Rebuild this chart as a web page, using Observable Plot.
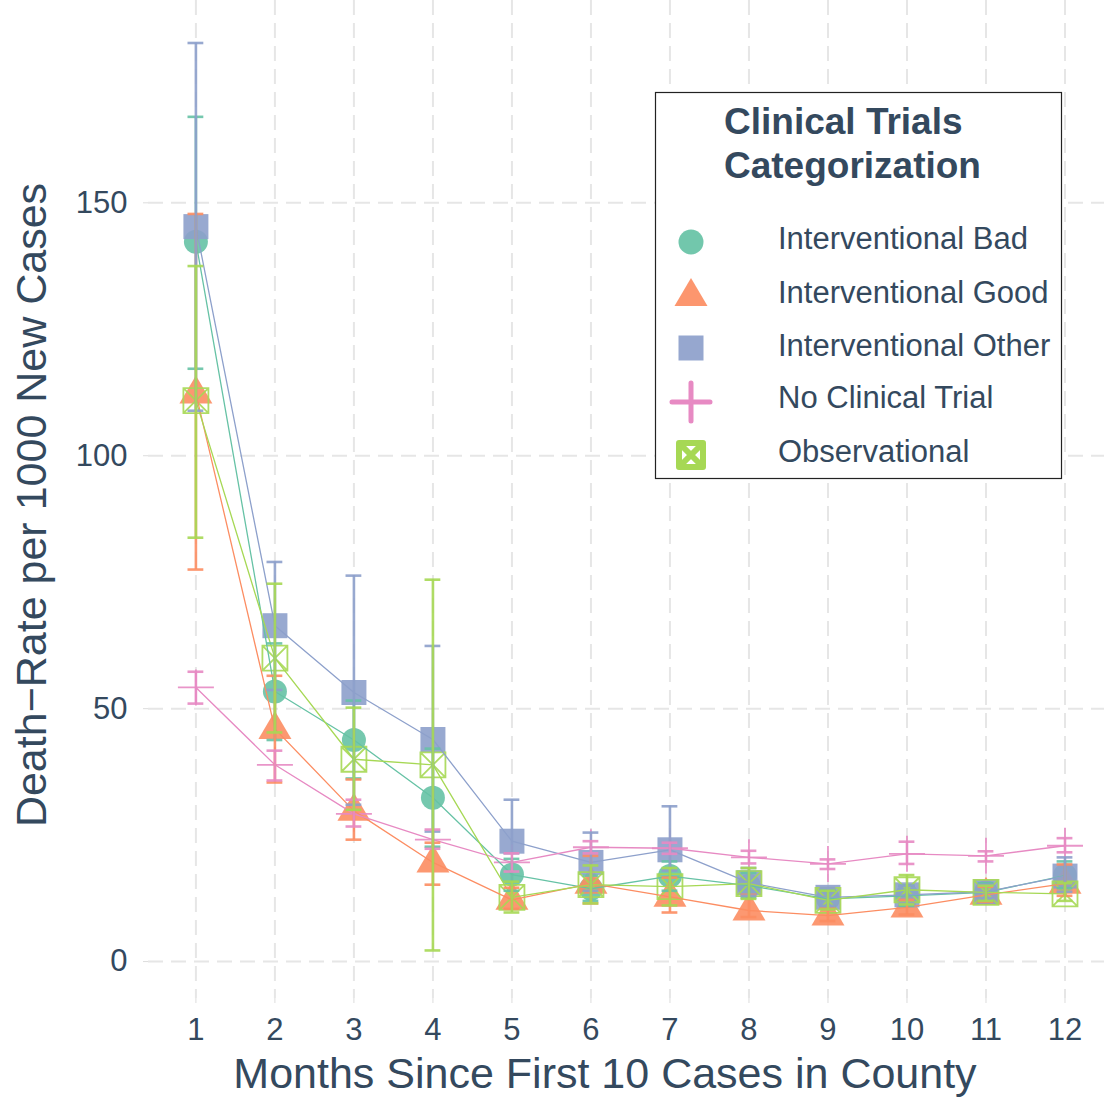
<!DOCTYPE html>
<html><head><meta charset="utf-8">
<script src="https://cdn.jsdelivr.net/npm/d3@7"></script>
<script src="https://cdn.jsdelivr.net/npm/@observablehq/plot@0.6"></script>
<style>
html,body{margin:0;padding:0;background:#fff;}
#chart{width:1104px;height:1097px;overflow:hidden;}
</style></head><body><div id="chart"></div>
<script>
// ---- Data ----
const months = [1,2,3,4,5,6,7,8,9,10,11,12];
const seriesNames = ["Interventional Bad","Interventional Good","Interventional Other","No Clinical Trial","Observational"];
const seriesColors = ["#66c2a5","#fc8d62","#8da0cb","#e78ac3","#a6d854"];
const yTicks = [0,50,100,150];

const badMean  = [142.3, 53.4, 43.8, 32.4, 17.2, 14.4, 16.9, 15.0, 12.4, 13.0, 13.7, 17.0];
const badLower = [117.2, 43.8, 36.2, 22.7, 14.0, 12.0, 14.0, 12.6, 10.8, 11.0, 12.0, 14.5];
const badUpper = [167.0, 62.9, 51.6, 42.1, 20.3, 17.0, 19.8, 17.5, 14.2, 15.0, 15.5, 19.8];

const goodMean  = [112.3, 46.0, 29.8, 19.6, 12.2, 15.4, 12.8, 10.1, 9.1, 10.7, 13.2, 15.4];
const goodLower = [77.5, 35.4, 24.1, 15.2, 10.4, 11.5, 9.7, 8.8, 8.0, 9.3, 11.8, 13.0];
const goodUpper = [147.8, 56.5, 36.0, 23.5, 14.6, 20.9, 16.6, 13.2, 10.5, 12.2, 14.8, 19.2];

const otherMean  = [145.3, 66.4, 53.2, 43.9, 23.8, 19.6, 22.1, 15.6, 12.7, 13.2, 13.8, 16.9];
const otherLower = [108.9, 53.7, 31.0, 25.7, 21.4, 14.0, 18.0, 13.0, 11.0, 11.5, 12.5, 13.8];
const otherUpper = [181.6, 79.0, 76.3, 62.4, 32.0, 25.5, 30.7, 18.5, 14.5, 15.0, 15.2, 20.6];

const noTrialMean  = [54.2, 38.9, 29.2, 24.1, 19.6, 22.6, 22.4, 20.6, 19.3, 21.3, 20.9, 22.9];
const noTrialLower = [51.0, 35.8, 26.7, 22.3, 17.8, 21.4, 21.3, 19.4, 18.3, 19.3, 19.8, 21.6];
const noTrialUpper = [57.3, 41.7, 32.0, 26.1, 21.4, 23.8, 23.5, 21.9, 20.2, 23.7, 21.8, 24.4];

const obsMean  = [110.9, 60.0, 40.0, 38.9, 12.7, 15.2, 14.8, 15.4, 12.1, 14.2, 13.7, 13.4];
const obsLower = [83.8, 45.3, 30.0, 2.2, 9.7, 11.5, 11.1, 12.4, 10.3, 11.3, 12.0, 12.0];
const obsUpper = [137.5, 74.7, 50.2, 75.5, 15.8, 19.0, 18.5, 18.5, 14.0, 17.1, 15.0, 15.5];

const means  = [badMean, goodMean, otherMean, noTrialMean, obsMean];
const lowers = [badLower, goodLower, otherLower, noTrialLower, obsLower];
const uppers = [badUpper, goodUpper, otherUpper, noTrialUpper, obsUpper];

// ---- Table ----
const rows = [];
seriesNames.forEach((s, i) => months.forEach((m, j) => rows.push({series: s, month: m, mean: means[i][j], lower: lowers[i][j], upper: uppers[i][j]})));

// ---- Symbols ----
const symCircle = {draw(c){ c.moveTo(12,0); c.arc(0,0,12,0,2*Math.PI); }};
const symTriangle = {draw(c){ c.moveTo(0,-18); c.lineTo(16.5,10); c.lineTo(-16.5,10); c.closePath(); }};
const symSquare = {draw(c){ c.rect(-12.5,-12.5,25,25); }};
const symPlus = {draw(c){ c.moveTo(-18,0); c.lineTo(18,0); c.moveTo(0,-18); c.lineTo(0,18); }};
const symBoxX = {draw(c){ c.rect(-12.5,-12.5,25,25); c.moveTo(-12.5,-12.5); c.lineTo(12.5,12.5); c.moveTo(12.5,-12.5); c.lineTo(-12.5,12.5); }};
const symbols = [symCircle, symTriangle, symSquare, symPlus, symBoxX];
const filled = [true, true, true, false, false];

const textColor = "#34495e";
const font = "'Liberation Sans', Arial, Helvetica, sans-serif";

const marks = [
  Plot.gridY(yTicks, {stroke: "#e6e6e6", strokeOpacity: 1, strokeWidth: 2, strokeDasharray: "15,8"}),
  Plot.gridX(months, {stroke: "#e6e6e6", strokeOpacity: 1, strokeWidth: 2, strokeDasharray: "15,8"}),
  Plot.axisX(months, {tickSize: 5, tickPadding: 14, fontSize: 31, stroke: "#dcdcdc", fill: textColor, label: null, tickFormat: d => String(d)}),
  Plot.axisY(yTicks, {tickSize: 5, tickPadding: 16, fontSize: 31, stroke: "#dcdcdc", fill: textColor, label: null})
];
// points
seriesNames.forEach((s, i) => {
  const d = rows.filter(r => r.series === s);
  marks.push(Plot.dot(d, {x: "month", y: "mean", r: 12, symbol: symbols[i],
    fill: filled[i] ? seriesColors[i] : "none",
    stroke: filled[i] ? "none" : seriesColors[i],
    strokeWidth: filled[i] ? 0 : 1.8,
    fillOpacity: 0.9, strokeOpacity: 0.9}));
});
// lines
seriesNames.forEach((s, i) => {
  const d = rows.filter(r => r.series === s);
  marks.push(Plot.line(d, {x: "month", y: "mean", stroke: seriesColors[i], strokeWidth: 1.3}));
});
// error bars
seriesNames.forEach((s, i) => {
  const d = rows.filter(r => r.series === s);
  marks.push(Plot.ruleX(d, {x: "month", y1: "lower", y2: "upper", stroke: seriesColors[i], strokeWidth: 2.6, strokeOpacity: 0.9}));
  marks.push(Plot.ruleY(d, {y: "lower", x1: r => r.month - 0.1, x2: r => r.month + 0.1, stroke: seriesColors[i], strokeWidth: 2.6, strokeOpacity: 0.9}));
  marks.push(Plot.ruleY(d, {y: "upper", x1: r => r.month - 0.1, x2: r => r.month + 0.1, stroke: seriesColors[i], strokeWidth: 2.6, strokeOpacity: 0.9}));
});

const svg = Plot.plot({
  width: 1104, height: 1097,
  marginLeft: 148, marginRight: 0, marginTop: 0, marginBottom: 99,
  x: {domain: [0.4, 12.5]},
  y: {domain: [-7.3, 190]},
  style: {fontFamily: font, color: textColor, background: "#fff", overflow: "visible"},
  marks
});
document.getElementById("chart").appendChild(svg);

// ---- Axis titles ----
const S = d3.select(svg);
S.append("text").attr("x", 605).attr("y", 1088).attr("text-anchor", "middle")
  .attr("font-family", font).attr("font-size", 43).attr("fill", textColor)
  .text("Months Since First 10 Cases in County");
S.append("text").attr("transform", "translate(46,505) rotate(-90)").attr("text-anchor", "middle")
  .attr("font-family", font).attr("font-size", 43).attr("fill", textColor)
  .text("Death\u2212Rate per 1000 New Cases");

// ---- Legend ----
const L = S.append("g").attr("text-anchor", "start");
L.append("rect").attr("x", 655.5).attr("y", 92.5).attr("width", 406).attr("height", 386)
  .attr("fill", "#fff").attr("stroke", "#222").attr("stroke-width", 1.2);
L.append("text").attr("x", 724).attr("y", 134).attr("text-anchor", "start").attr("font-family", font).attr("font-weight", "bold")
  .attr("font-size", 37).attr("fill", textColor).text("Clinical Trials");
L.append("text").attr("x", 724).attr("y", 178).attr("text-anchor", "start").attr("font-family", font).attr("font-weight", "bold")
  .attr("font-size", 37).attr("fill", textColor).text("Categorization");
const legendY = [242, 292, 348, 402, 455];
const legendBase = [249, 303, 356, 408, 462];
seriesNames.forEach((s, i) => {
  const cx = 691, cy = legendY[i], col = seriesColors[i];
  if (i === 0) L.append("circle").attr("cx", cx).attr("cy", cy).attr("r", 12.5).attr("fill", col).attr("fill-opacity", 0.92);
  if (i === 1) L.append("path").attr("d", `M${cx},${cy-14}L${cx+16.5},${cy+14}L${cx-16.5},${cy+14}Z`).attr("fill", col).attr("fill-opacity", 0.92);
  if (i === 2) L.append("rect").attr("x", cx-12.5).attr("y", cy-12.5).attr("width", 25).attr("height", 25).attr("fill", col).attr("fill-opacity", 0.92);
  if (i === 3) L.append("path").attr("d", `M${cx-19},${cy}H${cx+19}M${cx},${cy-19}V${cy+19}`).attr("stroke", col).attr("stroke-width", 5).attr("stroke-linecap", "round").attr("fill", "none");
  if (i === 4) L.append("path").attr("d", `M${cx-12},${cy-12}h24v24h-24zM${cx-12},${cy-12}L${cx+12},${cy+12}M${cx+12},${cy-12}L${cx-12},${cy+12}`)
      .attr("stroke", col).attr("stroke-width", 6).attr("fill", "none").attr("stroke-linejoin", "round");
  L.append("text").attr("x", 778).attr("y", legendBase[i]).attr("text-anchor", "start").attr("font-family", font).attr("font-size", 31)
    .attr("fill", textColor).text(s);
});
</script>
</body></html>
